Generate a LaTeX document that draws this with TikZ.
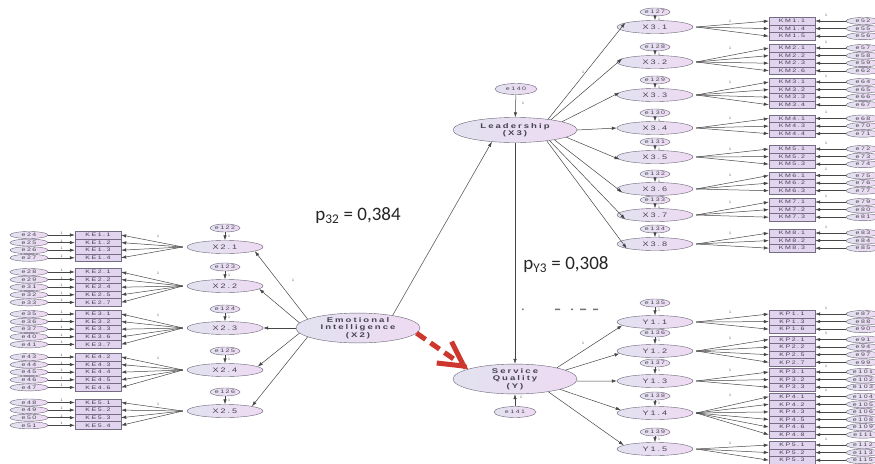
\documentclass[tikz,border=0pt]{standalone}
\usepackage{fontspec}
\setmainfont{Liberation Sans}
\newfontfamily\amos[FakeStretch=1.4,LetterSpace=30]{Liberation Sans}
\newfontfamily\calib{Carlito}
\usetikzlibrary{shapes,arrows.meta}
\definecolor{lavL}{RGB}{226,226,240}
\definecolor{lavR}{RGB}{238,218,242}
\definecolor{edge}{RGB}{105,100,118}
\definecolor{boxfill}{RGB}{224,212,238}
\definecolor{boxline}{RGB}{118,108,132}
\definecolor{linec}{RGB}{70,70,70}
\definecolor{txt}{RGB}{70,66,80}
\definecolor{arrowred}{RGB}{205,55,45}

\begin{document}
\begin{tikzpicture}[x=1pt,y=-1pt]
\tikzstyle{lat}=[ellipse, draw=edge, left color=lavL, right color=lavR,
	inner sep=0pt, minimum width=76pt, minimum height=13pt,
	text=txt, font=\amos\fontsize{6.5}{6.5}\selectfont]
\tikzstyle{big}=[lat, minimum width=124pt, minimum height=25pt, align=center,
	font=\amos\fontsize{6.8}{7.4}\selectfont\bfseries]
\tikzstyle{err}=[ellipse, draw=edge, left color=lavL, right color=lavR,
	inner sep=0pt, minimum width=30pt, minimum height=8pt,
	text=txt, font=\amos\fontsize{5}{5}\selectfont]
\tikzstyle{ind}=[rectangle, draw=boxline, fill=boxfill, inner sep=0pt,
	minimum width=46pt, minimum height=7.6pt,
	text=txt, font=\amos\fontsize{5}{5}\selectfont]
\tikzstyle{conn}=[-{Latex[length=5pt,width=3.4pt]}, draw=linec, line width=0.5pt]
\tikzstyle{wlab}=[inner sep=0.3pt, text=txt, font=\fontsize{3.5}{3.5}\selectfont]
\tikzstyle{pval}=[inner sep=0pt, text=black!85, font=\calib\fontsize{19}{19}\selectfont]
\tikzstyle{hint}=[arrowred, line width=5pt]

\path[use as bounding box] (0,0) rectangle (875,463);
\clip (0,0) rectangle (875,463);
\fill[white] (0,0) rectangle (875,463);

% main constructs
\node[big] (ei) at (358,328) {Emotional\\Intelligence\\(X2)};
\node[big] (lead) at (515,130) {Leadership\\(X3)};
\node[big, minimum height=29pt] (sq) at (515,379) {Service\\Quality\\(Y)};
\node[err, minimum width=42pt, minimum height=11pt] (e140) at (516,89) {e140};
\node[err, minimum width=42pt, minimum height=11pt] (e141) at (515,412) {e141};

\draw[conn] (e140) -- (lead);
\node[wlab] at (523,103) {1};
\draw[conn] (e141) -- (sq);
\node[wlab] at (521,397) {1};
\draw[conn] (ei.20) -- (lead.207);
\draw[conn] (lead.south) -- (sq.north);
% red hint arrow: dashed shaft, solid head
\draw[hint, dash pattern=on 11pt off 6pt, shorten >=12pt] (ei.-5) -- (sq.168);
\draw[hint, shorten <=60pt, -{Straight Barb[length=24pt, width=26pt, line width=5pt]}] (ei.-5) -- (sq.168);

\node[pval] (p32) at (358,216) {p\textsubscript{32} = 0,384};
\node[pval] (py3) at (566,265) {p\textsubscript{Y3} = 0,308};
% cut off text below
\fill[black!55] (522,308.5) rectangle (523.5,310) (555,308.5) rectangle (560,310)
	(571,308.5) rectangle (573,310) (580,308.5) rectangle (586,310)
	(593,308.5) rectangle (598,310);

% emotional intelligence (X2)
\foreach \g/\ya/\yl/\ta/\rows in {
	1/235/247/-8/{KE1.1/e24,KE1.2/e25,KE1.3/e26,KE1.4/e27},
	2/272/286/-5/{KE2.1/e28,KE2.2/e29,KE2.4/e31,KE2.5/e32,KE2.7/e33},
	3/314/328/0/{KE3.1/e35,KE3.2/e36,KE3.3/e37,KE3.6/e40,KE3.7/e41},
	4/357/370/6/{KE4.2/e43,KE4.3/e44,KE4.4/e45,KE4.5/e46,KE4.6/e47},
	5/402.5/411/10/{KE5.1/e48,KE5.2/e49,KE5.3/e50,KE5.4/e51}}{
	\pgfmathtruncatemacro\en{121+\g}
	\pgfmathtruncatemacro\sa{165+5*\g}
	\node[lat] (x2\g) at (225,\yl) {X2.\g};
	\node[err] (ex2\g) at (225,\yl-19) {e\en};
	\draw[conn] (ex2\g) -- (x2\g);
	\node[wlab] at (229,\yl-11) {1};
	\draw[conn] (ei.\sa) -- (x2\g.\ta);
	\node[wlab] at (158,\ya+1.5) {1};
	\foreach [count=\i] \b/\e in \rows {
		\node[ind] (ke\g\i) at (98,\ya+7.6*\i-7.6) {\b};
		\node[err, minimum width=38pt, minimum height=7pt] (eke\g\i) at (29,\ya+7.6*\i-7.6) {\e};
		\draw[conn] (eke\g\i) -- node[wlab,above]{1} (ke\g\i);
		\draw[conn] ([xshift=-4pt]x2\g.west) -- (ke\g\i.east);
	}
}
\node[wlab] at (293,280) {1};

% leadership (X3)
\foreach \g/\ya/\yl/\sa/\ta/\rows in {
	1/21/27/18/172/{KM1.1/e52,KM1.4/e55,KM1.5/e56},
	2/48/62/16/174/{KM2.1/e57,KM2.2/e58,KM2.3/e59,KM2.6/e62},
	3/82/95/10/176/{KM3.1/e64,KM3.2/e65,KM3.3/e66,KM3.4/e67},
	4/118.5/128/0/180/{KM4.1/e68,KM4.3/e70,KM4.4/e71},
	5/149/157/-8/184/{KM5.1/e72,KM5.2/e73,KM5.3/e74},
	6/175.5/189/-14/186/{KM6.1/e75,KM6.2/e76,KM6.3/e77},
	7/202/215/-17/188/{KM7.1/e79,KM7.2/e80,KM7.3/e81},
	8/233/244/-19/189/{KM8.1/e83,KM8.2/e84,KM8.3/e85}}{
	\pgfmathtruncatemacro\en{126+\g}
	\node[lat] (x3\g) at (655,\yl) {X3.\g};
	\node[err] (ex3\g) at (655,\yl-15) {e\en};
	\draw[conn] (ex3\g) -- (x3\g);
	\node[wlab] at (659,\yl-8) {1};
	\draw[conn] (lead.\sa) -- (x3\g.\ta);
	\node[wlab] at (730,\ya) {1};
	\node[wlab] at (826,\ya-6) {1};
	\foreach [count=\i] \b/\e in \rows {
		\node[ind] (km\g\i) at (792,\ya+7.6*\i-7.6) {\b};
		\node[err, minimum width=34pt, minimum height=7pt] (ekm\g\i) at (863,\ya+7.6*\i-7.6) {\e};
		\draw[conn] (ekm\g\i) -- (km\g\i);
		\draw[conn] ([xshift=3pt]x3\g.east) -- (km\g\i.west);
	}
}
\node[wlab] at (583,72) {1};

% service quality (Y)
\foreach \g/\ya/\yl/\ye/\sa/\ta/\rows in {
	1/314/322/303/15/186/{KP1.1/e87,KP1.3/e88,KP1.6/e90},
	2/339.5/351/333/10/184/{KP2.1/e91,KP2.2/e94,KP2.5/e97,KP2.7/e99},
	3/372/381/363/-2/180/{KP3.1/e101,KP3.2/e102,KP3.3/e103},
	4/396.7/413/396/-13/175/{KP4.1/e104,KP4.2/e105,KP4.3/e106,KP4.5/e108,KP4.6/e109,KP4.8/e111},
	5/445/449/432/-21/173/{KP5.1/e112,KP5.2/e113,KP5.3/e115}}{
	\pgfmathtruncatemacro\en{134+\g}
	\node[lat] (y1\g) at (655,\yl) {Y1.\g};
	\node[err] (ey1\g) at (655,\ye) {e\en};
	\draw[conn] (ey1\g) -- (y1\g);
	\node[wlab] at (659,\ye+7) {1};
	\draw[conn] (sq.\sa) -- (y1\g.\ta);
	\node[wlab] at (730,\ya-1.5) {1};
	\node[wlab] at (826,\ya-6) {1};
	\foreach [count=\i] \b/\e in \rows {
		\node[ind] (kp\g\i) at (792,\ya+7.6*\i-7.6) {\b};
		\node[err, minimum width=34pt, minimum height=7pt] (ekp\g\i) at (863,\ya+7.6*\i-7.6) {\e};
		\draw[conn] (ekp\g\i) -- (kp\g\i);
		\draw[conn] ([xshift=3pt]y1\g.east) -- (kp\g\i.west);
	}
}
\node[wlab] at (583,343) {1};
\end{tikzpicture}
\end{document}
